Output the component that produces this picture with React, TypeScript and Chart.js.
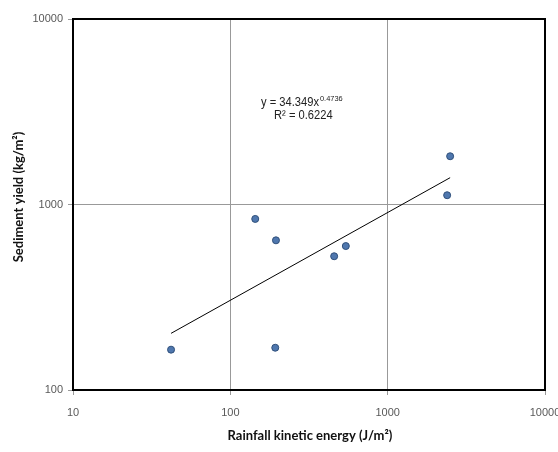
import React, { useEffect, useRef } from "react";
import { Chart, registerables } from "chart.js";

Chart.register(...registerables);

const energyX = [42, 193, 195, 144, 457, 542, 2495, 2388];
const sedimentY = [165, 169, 641, 836, 526, 597, 1820, 1122];
const trendX = [42, 2495];
const trendY = [202, 1395];
const xTicks = [10, 100, 1000, 10000];
const yTicks = [100, 1000, 10000];
const xTitle = "Rainfall kinetic energy (J/m²)";
const yTitle = "Sediment yield (kg/m²)";
const eqMain = "y = 34.349x";
const eqExp = "0.4736";
const r2Text = "R² = 0.6224";

const overlay = {
  id: "overlay",
  afterDraw(chart: any) {
    const { ctx, chartArea } = chart;
    ctx.save();
    ctx.strokeStyle = "#000";
    ctx.lineWidth = 2;
    ctx.strokeRect(chartArea.left, chartArea.top, chartArea.right - chartArea.left, chartArea.bottom - chartArea.top);
    ctx.fillStyle = "#111";
    ctx.font = "bold 13px Lato, 'Noto Sans', sans-serif";
    ctx.textAlign = "center";
    ctx.textBaseline = "middle";
    ctx.fillText(xTitle, 310, 436);
    ctx.save();
    ctx.translate(19, 197);
    ctx.rotate(-Math.PI / 2);
    ctx.fillText(yTitle, 0, 0);
    ctx.restore();

    ctx.fillStyle = "#222";
    ctx.textAlign = "left";
    ctx.textBaseline = "middle";
    const sx = 0.93;
    ctx.save();
    ctx.translate(261, 103);
    ctx.scale(sx, 1);
    ctx.font = "12px 'Liberation Sans', sans-serif";
    ctx.fillText(eqMain, 0, 0);
    const w = ctx.measureText(eqMain).width;
    ctx.font = "8px 'Liberation Sans', sans-serif";
    ctx.fillText(eqExp, w + 1, -4);
    ctx.restore();
    ctx.save();
    ctx.translate(274, 116);
    ctx.scale(sx, 1);
    ctx.font = "12px 'Liberation Sans', sans-serif";
    ctx.fillText(r2Text, 0, 0);
    ctx.restore();
    ctx.restore();
  },
};

export default function App() {
  const ref = useRef<HTMLCanvasElement>(null);
  useEffect(() => {
    if (!ref.current) return;
    const chart = new Chart(ref.current, {
      type: "scatter",
      data: {
        datasets: [
          {
            type: "line",
            data: trendX.map((x, i) => ({ x, y: trendY[i] })),
            borderColor: "#000",
            borderWidth: 1,
            pointRadius: 0,
            fill: false,
          } as any,
          {
            type: "scatter",
            data: energyX.map((x, i) => ({ x, y: sedimentY[i] })),
            backgroundColor: "#4F77AE",
            borderColor: "#2F4F7A",
            borderWidth: 1,
            pointRadius: 3.5,
          },
        ],
      },
      plugins: [overlay],
      options: {
        responsive: false,
        animation: false,
        layout: { padding: { left: 0, top: 19, right: 13, bottom: 0 } },
        plugins: { legend: { display: false }, tooltip: { enabled: false } },
        scales: {
          x: {
            type: "logarithmic",
            min: 10,
            max: 10000,
            afterBuildTicks: (s: any) => {
              s.ticks = xTicks.map((v) => ({ value: v }));
            },
            afterFit: (s: any) => {
              s.height = 62;
              s.paddingLeft = 0;
              s.paddingRight = 0;
            },
            grid: { color: "#999999", lineWidth: 1, tickLength: 5, drawTicks: true },
            border: { display: false },
            ticks: {
              color: "#595959",
              font: { family: "'Liberation Sans', sans-serif", size: 11 },
              padding: 11,
              maxRotation: 0,
              autoSkip: false,
              callback: (v: any) => String(v),
            },
          },
          y: {
            type: "logarithmic",
            min: 100,
            max: 10000,
            afterBuildTicks: (s: any) => {
              s.ticks = yTicks.map((v) => ({ value: v }));
            },
            afterFit: (s: any) => {
              s.width = 73;
              s.paddingTop = 0;
              s.paddingBottom = 0;
            },
            grid: { color: "#999999", lineWidth: 1, tickLength: 5, drawTicks: true },
            border: { display: false },
            ticks: {
              color: "#595959",
              font: { family: "'Liberation Sans', sans-serif", size: 11 },
              padding: 5,
              autoSkip: false,
              callback: (v: any) => String(v),
            },
          },
        },
      },
    });
    return () => chart.destroy();
  }, []);
  return (
    <div style={{ position: "absolute", left: 0, top: 0, width: 558, height: 452, background: "#fff" }}>
      <canvas ref={ref} width={558} height={452} style={{ display: "block", width: 558, height: 452 }} />
    </div>
  );
}
